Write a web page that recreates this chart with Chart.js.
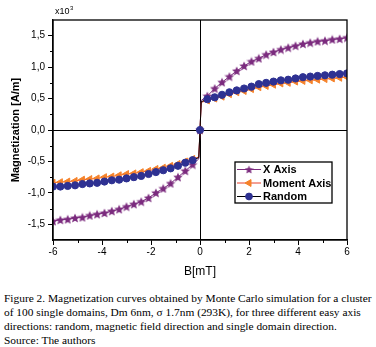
<!DOCTYPE html>
<html>
<head>
<meta charset="utf-8">
<script src="https://cdn.jsdelivr.net/npm/chart.js@4.4.1/dist/chart.umd.min.js"></script>
<style>
body { margin: 0; background: #fff; }
#wrap { position: relative; width: 376px; height: 280px; }
#caption { margin: 11px 0 0 4px; width: 372px; white-space: nowrap; font-family: "Liberation Serif", "Times New Roman", serif; font-size: 11.4px; line-height: 14px; color: #000; }
</style>
</head>
<body>
<div id="wrap"><canvas id="magChart"></canvas></div>
<div id="caption">Figure 2. Magnetization curves obtained by Monte Carlo simulation for a cluster<br>of 100 single domains, Dm 6nm, &sigma; 1.7nm (293K), for three different easy axis<br>directions: random, magnetic field direction and single domain direction.<br>Source: The authors</div>
<script>
// field values in mT
const bField = [-6, -5.7, -5.4, -5.1, -4.8, -4.5, -4.2, -3.9, -3.6, -3.3, -3, -2.7, -2.4, -2.1, -1.8, -1.5, -1.2, -0.9, -0.6, -0.3, -0.05,
    0, 0.05, 0.3, 0.6, 0.9, 1.2, 1.5, 1.8, 2.1, 2.4, 2.7, 3, 3.3, 3.6, 3.9, 4.2, 4.5, 4.8, 5.1, 5.4, 5.7, 6];

// magnetization, x10^3 A/m
const xAxis = [-1.45, -1.43, -1.42, -1.40, -1.39, -1.36, -1.34, -1.32, -1.29, -1.26, -1.22, -1.18, -1.14, -1.08, -1.00, -0.93, -0.85, -0.75, -0.65, -0.55, -0.46,
    0, 0.47, 0.54, 0.66, 0.76, 0.85, 0.94, 1.02, 1.09, 1.14, 1.20, 1.24, 1.28, 1.31, 1.34, 1.37, 1.39, 1.41, 1.42, 1.44, 1.45, 1.47];
const momentAxis = [-0.84, -0.83, -0.82, -0.81, -0.79, -0.78, -0.77, -0.75, -0.74, -0.72, -0.70, -0.69, -0.67, -0.65, -0.62, -0.60, -0.57, -0.54, -0.50, -0.46, -0.43,
    0, 0.44, 0.47, 0.50, 0.53, 0.57, 0.60, 0.62, 0.65, 0.68, 0.70, 0.72, 0.74, 0.75, 0.77, 0.78, 0.79, 0.80, 0.81, 0.82, 0.83, 0.84];
const randomAxis = [-0.90, -0.90, -0.89, -0.88, -0.86, -0.85, -0.84, -0.82, -0.80, -0.79, -0.77, -0.75, -0.73, -0.70, -0.67, -0.64, -0.61, -0.57, -0.52, -0.48, -0.44,
    0, 0.45, 0.49, 0.52, 0.56, 0.60, 0.63, 0.66, 0.69, 0.73, 0.75, 0.77, 0.79, 0.80, 0.82, 0.84, 0.85, 0.86, 0.87, 0.88, 0.89, 0.90];

const xTicks = [-6, -4, -2, 0, 2, 4, 6];
const xMinor = [-5, -3, -1, 1, 3, 5];
const yTicks = [-1.5, -1, -0.5, 0, 0.5, 1, 1.5];
const yMinor = [-1.25, -0.75, -0.25, 0.25, 0.75, 1.25];

function toPoints(vals) {
    return bField.map((b, i) => ({ x: b, y: vals[i] }));
}
// hide markers on the tiny step points next to zero
function markerSize(r) {
    return ctx => {
        const b = bField[ctx.dataIndex];
        return (b !== 0 && Math.abs(b) < 0.1) ? 0 : r;
    };
}

// filled 5 point star, chart.js 'star' is only an asterisk
function makeStar(size, color) {
    const c = document.createElement('canvas');
    c.width = size;
    c.height = size;
    const g = c.getContext('2d');
    const R = size / 2, r = R * 0.45;
    g.fillStyle = color;
    g.beginPath();
    for (let i = 0; i < 10; i++) {
        const rad = i % 2 === 0 ? R : r;
        const ang = -Math.PI / 2 + i * Math.PI / 5;
        const px = R + rad * Math.cos(ang);
        const py = R + 0.4 + rad * Math.sin(ang);
        if (i === 0) g.moveTo(px, py); else g.lineTo(px, py);
    }
    g.closePath();
    g.fill();
    return c;
}
const starMark = makeStar(10, '#7b2b7e');
const starLegend = makeStar(9, '#7b2b7e');

// frame, zero lines, minor ticks, legend and the x10^3 label
const decorPlugin = {
    id: 'decor',
    beforeDatasetsDraw(chart) {
        const { ctx, chartArea: a, scales } = chart;
        const x0 = scales.x.getPixelForValue(0);
        const y0 = scales.y.getPixelForValue(0);
        ctx.save();
        ctx.strokeStyle = '#000';
        ctx.lineWidth = 1;
        ctx.beginPath();
        ctx.moveTo(a.left, Math.round(y0) + 0.5);
        ctx.lineTo(a.right, Math.round(y0) + 0.5);
        ctx.moveTo(Math.round(x0) + 0.5, a.top);
        ctx.lineTo(Math.round(x0) + 0.5, a.bottom);
        ctx.stroke();
        ctx.restore();
    },
    afterDraw(chart) {
        const { ctx, chartArea: a, scales } = chart;
        ctx.save();
        ctx.strokeStyle = '#000';
        ctx.lineWidth = 1.3;
        ctx.strokeRect(a.left, a.top, a.right - a.left, a.bottom - a.top);
        ctx.lineWidth = 1;
        ctx.beginPath();
        xMinor.forEach(v => {
            const px = Math.round(scales.x.getPixelForValue(v)) + 0.5;
            ctx.moveTo(px, a.bottom);
            ctx.lineTo(px, a.bottom + 3);
        });
        yMinor.forEach(v => {
            const py = Math.round(scales.y.getPixelForValue(v)) + 0.5;
            ctx.moveTo(a.left, py);
            ctx.lineTo(a.left - 3, py);
        });
        ctx.stroke();

        // x10^3
        ctx.fillStyle = '#000';
        ctx.textBaseline = 'alphabetic';
        ctx.font = '9px "Liberation Sans", Arial, sans-serif';
        ctx.fillText('x10', a.left + 2, a.top - 6);
        const w = ctx.measureText('x10').width;
        ctx.font = '6px "Liberation Sans", Arial, sans-serif';
        ctx.fillText('3', a.left + 2.5 + w, a.top - 10);

        // legend box
        const lx = 235, ly = 162, lw = 97, lh = 41;
        ctx.fillStyle = '#fff';
        ctx.fillRect(lx, ly, lw, lh);
        ctx.lineWidth = 1.3;
        ctx.strokeRect(lx, ly, lw, lh);
        const order = [2, 1, 0];
        order.forEach((di, row) => {
            const ds = chart.data.datasets[di];
            const cy = ly + 7.5 + row * 13.5;
            ctx.strokeStyle = ds.borderColor;
            ctx.lineWidth = 1;
            ctx.beginPath();
            ctx.moveTo(lx + 2, cy);
            ctx.lineTo(lx + 26, cy);
            ctx.stroke();
            ctx.fillStyle = ds.legendColor;
            ctx.strokeStyle = ds.legendColor;
            Chart.helpers.drawPoint(ctx, {
                pointStyle: ds.legendStyle,
                rotation: ds.pointRotation || 0,
                radius: ds.legendRadius,
                borderWidth: 1
            }, lx + 14, cy);
            ctx.fillStyle = '#000';
            ctx.font = 'bold 11px "Liberation Sans", Arial, sans-serif';
            ctx.textBaseline = 'middle';
            ctx.fillText(ds.label, lx + 28, cy + 0.5);
        });
        ctx.restore();
    }
};

const config = {
    type: 'line',
    data: {
        datasets: [
            {
                label: 'Random',
                data: toPoints(randomAxis),
                borderColor: '#000',
                borderWidth: 1,
                pointStyle: 'circle',
                pointRadius: markerSize(3.6),
                pointBackgroundColor: '#2e3192',
                pointBorderColor: '#2e3192',
                legendStyle: 'circle',
                legendRadius: 3.4,
                legendColor: '#2e3192',
                order: 0
            },
            {
                label: 'Moment Axis',
                data: toPoints(momentAxis),
                borderColor: '#e8402a',
                borderWidth: 1,
                pointStyle: 'triangle',
                pointRotation: -90,
                pointRadius: markerSize(4),
                pointBackgroundColor: '#f5822a',
                pointBorderColor: '#f5822a',
                legendStyle: 'triangle',
                legendRadius: 4,
                legendColor: '#f5822a',
                order: 1
            },
            {
                label: 'X Axis',
                data: toPoints(xAxis),
                borderColor: '#7b2b7e',
                borderWidth: 1,
                pointStyle: starMark,
                pointRadius: markerSize(5),
                pointBackgroundColor: '#7b2b7e',
                pointBorderColor: '#7b2b7e',
                legendStyle: starLegend,
                legendRadius: 4.5,
                legendColor: '#7b2b7e',
                order: 2
            }
        ]
    },
    options: {
        responsive: true,
        maintainAspectRatio: false,
        animation: false,
        layout: { padding: { left: 0, right: 29, top: 20, bottom: 0 } },
        plugins: {
            legend: { display: false },
            tooltip: { enabled: false }
        },
        scales: {
            x: {
                type: 'linear',
                min: -6,
                max: 6,
                afterBuildTicks: s => { s.ticks = xTicks.map(v => ({ value: v })); },
                afterFit: s => { s.height = 40; },
                grid: { drawOnChartArea: false, tickLength: 5, color: '#000' },
                border: { color: '#000', width: 1.3 },
                ticks: {
                    color: '#000',
                    padding: 1,
                    maxRotation: 0,
                    font: { family: '"Liberation Sans", Arial, sans-serif', size: 10 },
                    callback: v => String(v)
                },
                title: {
                    display: true,
                    text: 'B[mT]',
                    color: '#000',
                    padding: { top: 0, bottom: 1 },
                    font: { family: '"Liberation Sans", Arial, sans-serif', size: 12 }
                }
            },
            y: {
                type: 'linear',
                min: -1.75,
                max: 1.75,
                afterBuildTicks: s => { s.ticks = yTicks.map(v => ({ value: v })); },
                afterFit: s => { s.width = 53; },
                grid: { drawOnChartArea: false, tickLength: 5, color: '#000' },
                border: { color: '#000', width: 1.3 },
                ticks: {
                    color: '#000',
                    padding: 3,
                    font: { family: '"Liberation Sans", Arial, sans-serif', size: 10 },
                    callback: v => v.toFixed(1).replace('.', ',')
                },
                title: {
                    display: true,
                    text: 'Magnetization [A/m]',
                    color: '#000',
                    padding: { top: 9, bottom: 0 },
                    font: { family: '"Liberation Sans", Arial, sans-serif', size: 11, weight: 'bold' }
                }
            }
        }
    },
    plugins: [decorPlugin]
};

const ctx = document.getElementById('magChart').getContext('2d');
const chart = new Chart(ctx, config);
</script>
</body>
</html>
